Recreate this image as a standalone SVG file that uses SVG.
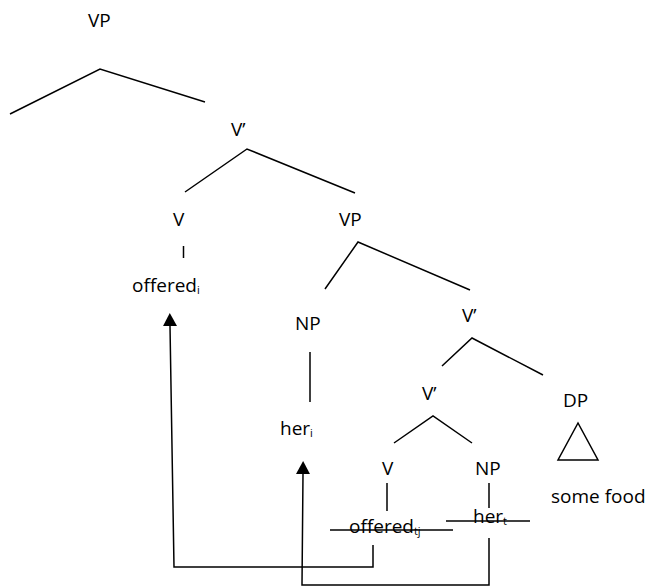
<svg xmlns="http://www.w3.org/2000/svg" width="651" height="587" viewBox="0 0 651 587">
<defs>
<style>
text{font-family:"Open Sans","Liberation Sans",sans-serif;font-size:19px;fill:#000}
.sub{font-size:11px}
line,polyline,polygon.t{stroke:#000;stroke-width:1.5;fill:none}
</style>
<marker id="ah" viewBox="0 0 13 14" refX="0" refY="7" markerWidth="13" markerHeight="14" markerUnits="userSpaceOnUse" orient="auto">
<path d="M0,0 L13,7 L0,14 Z" fill="#000"/>
</marker>
</defs>
<rect width="651" height="587" fill="#fff"/>
<g id="vp-top"><text x="88" y="27">VP</text></g>
<g id="vbar1"><text x="231" y="136">V’</text></g>
<g id="v1"><text x="173" y="226">V</text></g>
<g id="offered-i"><text x="132" y="292">offered<tspan class="sub" dy="2">i</tspan></text></g>
<g id="vp2"><text x="339" y="226">VP</text></g>
<g id="np1"><text x="295" y="330">NP</text></g>
<g id="her-i"><text x="280" y="435">her<tspan class="sub" dy="2">i</tspan></text></g>
<g id="vbar2"><text x="462" y="322">V’</text></g>
<g id="vbar3"><text x="422" y="400">V’</text></g>
<g id="dp"><text x="563" y="407">DP</text><polygon class="t" points="578,423 558,460 598,460"/></g>
<g id="some-food"><text x="551" y="503">some food</text></g>
<g id="v2"><text x="382" y="475">V</text></g>
<g id="np2"><text x="475" y="475">NP</text></g>
<g id="offered-tj"><text x="349" y="533">offered<tspan class="sub" dy="2">tj</tspan></text><line x1="330" y1="530" x2="453" y2="530"/></g>
<g id="her-t"><text x="473" y="523">her<tspan class="sub" dy="2">t</tspan></text><line x1="446" y1="521" x2="530" y2="521"/></g>
<g id="connectors">
<polyline points="10,114 100,69 205,102"/>
<polyline points="185,192 247,149 355,193"/>
<line x1="183.5" y1="246" x2="183.5" y2="258"/>
<polyline points="325,289 358,242 470,290"/>
<line x1="310" y1="352" x2="310" y2="402"/>
<polyline points="442,366 472,338 543,375"/>
<polyline points="394,443 433,416 472,443"/>
<line x1="387" y1="483" x2="387" y2="511"/>
<line x1="489" y1="483" x2="489" y2="508"/>
<polyline points="373,545 373,567 174,567 170,326" marker-end="url(#ah)"/>
<polyline points="489,538 489,585 302,585 303,474" marker-end="url(#ah)"/>
</g>
</svg>
